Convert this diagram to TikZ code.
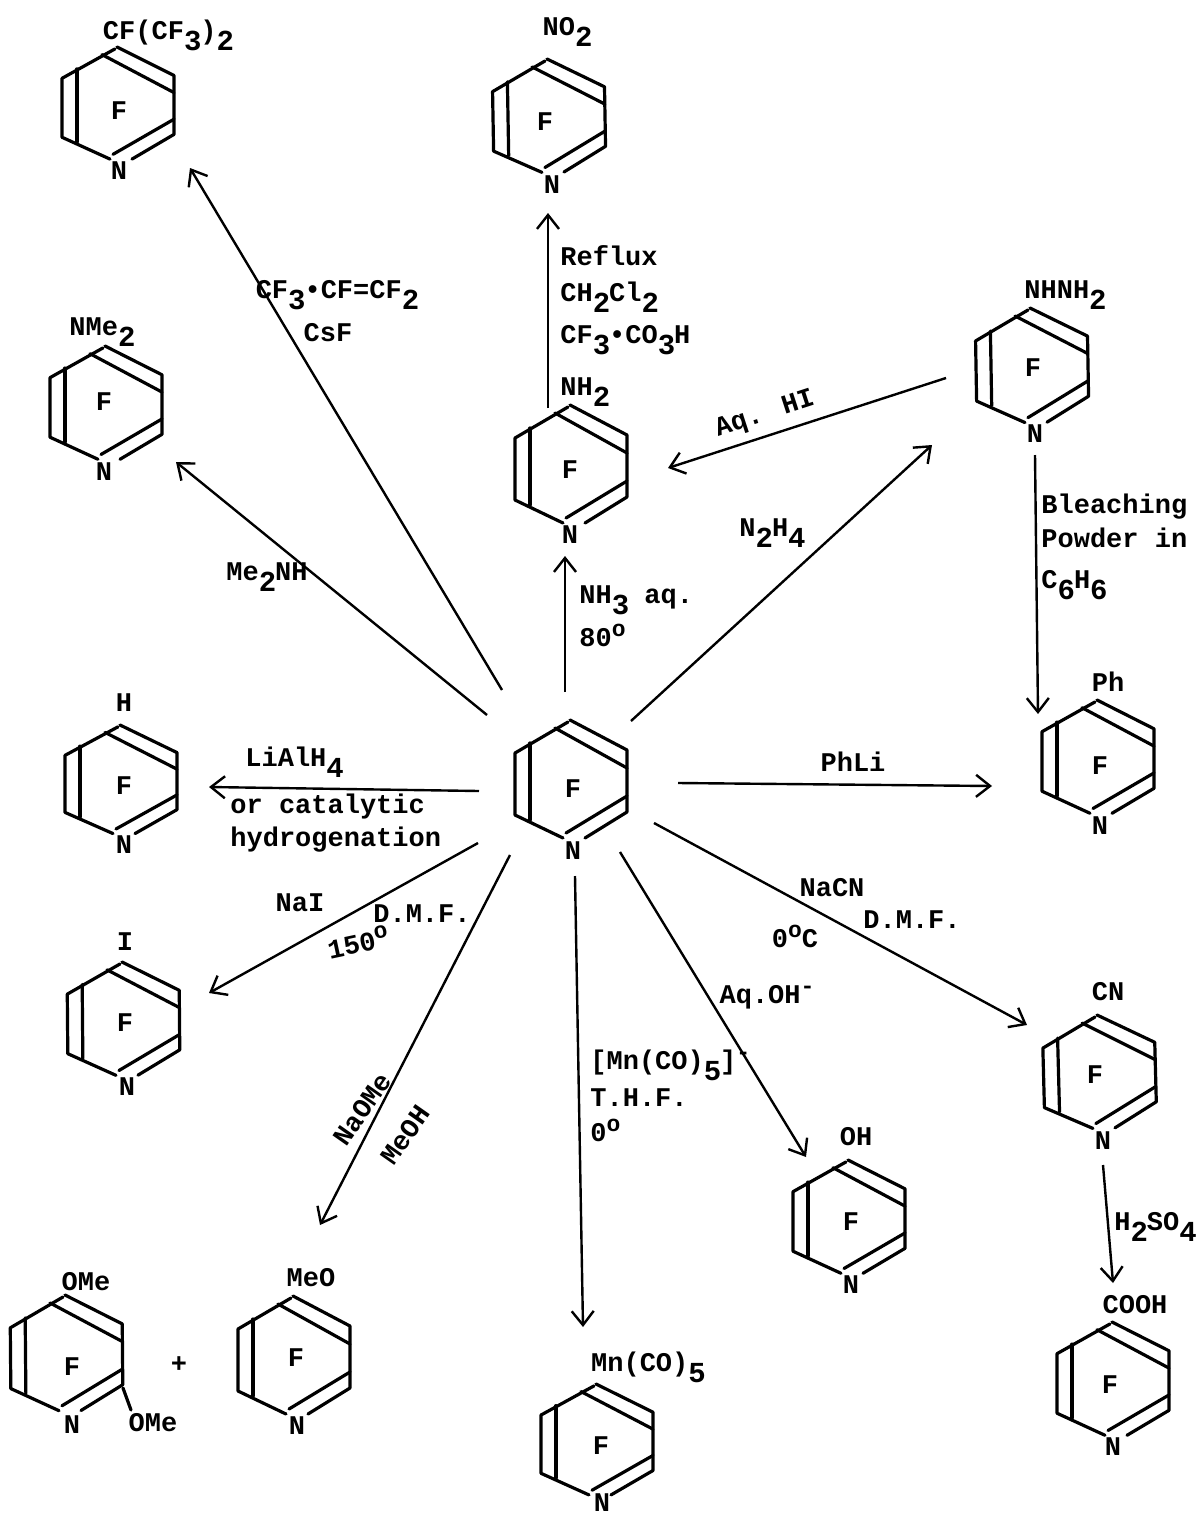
\documentclass[tikz,border=0pt]{standalone}
\usepackage{fontspec}
\setmainfont{Liberation Mono}[BoldFont={Liberation Mono Bold}]
\usetikzlibrary{arrows.meta}
\newcommand\dn[1]{\raisebox{-5.5pt}{\fontsize{14.5}{14.5}\selectfont #1}\kern-.5pt\relax}
\newcommand\up[1]{\raisebox{5pt}{\fontsize{11.5}{11.5}\selectfont #1}}
\newcommand\dotb{•}
\tikzset{
  bond/.style={line width=1.6pt,line cap=round,line join=round},
  rxn/.style={line width=1.2pt,-{Straight Barb[length=7pt,width=11pt,line width=1.2pt]}},
  lab/.style={font=\fontsize{13.5}{13.5}\selectfont\bfseries,inner sep=0pt,text=black},
  atom/.style={font=\fontsize{13.5}{13.5}\selectfont\bfseries,inner sep=0pt,text=black},
}
% name, top x, top y, y scale, rotation, F x, F y, N x, N y
\newcommand\pyr[9]{%
\begin{scope}[shift={(#2,#3)},rotate=#5,yscale=#4]
  \draw[bond] (-2,2) -- (-55,33) -- (-55,95) -- (-7,118);
  \draw[bond] (0,0) -- (57,30) -- (57,92) -- (15,118);
  \draw[bond] (-15,8) -- (57,48);
  \draw[bond] (-4,113) -- (57,76);
  \draw[bond] (-40,23) -- (-40,100);
\end{scope}
\node[atom] (#1F) at (#6,#7) {F};
\node[atom] (#1N) at (#8,#9) {N};}
\begin{document}
\begin{tikzpicture}[x=0.5pt,y=-0.5pt]
\useasboundingbox[fill=white] (0,0) rectangle (1199,1515);
\pyr{cf}{117}{47}{.95}{0}{119}{111}{119}{171}
\pyr{no}{547}{59}{.96}{1}{545}{122}{552}{185}
\pyr{nme}{105}{346}{.96}{0}{104}{402}{104}{472}
\pyr{nh}{570}{405}{1}{0}{570}{470}{570}{535}
\pyr{hyd}{1030}{308}{.97}{1}{1033}{368}{1035}{434}
\pyr{h}{120}{725}{.92}{0}{124}{786}{124}{845}
\pyr{c}{570}{720}{1}{0}{573}{789}{573}{851}
\pyr{ph}{1097}{700}{.96}{0}{1100}{766}{1100}{826}
\pyr{io}{122}{962}{.96}{.5}{125}{1023}{127}{1087}
\pyr{cn}{1097}{1015}{.96}{1.5}{1095}{1075}{1103}{1141}
\pyr{oh}{848}{1160}{.96}{0}{851}{1222}{851}{1285}
\pyr{co}{1112}{1322}{.96}{0}{1110}{1385}{1113}{1447}
\pyr{meo}{293}{1296}{1}{0}{296}{1358}{297}{1426}
\pyr{ome}{65}{1295}{.98}{.5}{72}{1367}{72}{1425}
\pyr{mn}{596}{1384}{.94}{0}{601}{1446}{602}{1503}
% extra bond of dimethoxy product
\draw[bond] (123,1388) -- (131,1410);
% free connector ends
\foreach \n/\x/\y in {a1/502/690,a2/190/168,b1/487/715,b2/176/462,c1/565/692,c2/565/556,
  d1/548/408,d2/548/213,e1/631/721,e2/932/445,f1/946/378,f2/668/468,g1/1035/455,g2/1038/714,
  h1/678/783,h2/992/786,i1/479/791,i2/209/787,j1/478/843,j2/209/993,k1/510/855,k2/320/1225,
  l1/575/876,l2/583/1327,m1/620/852,m2/806/1157,n1/654/823,n2/1027/1025,o1/1103/1165,o2/1113/1283}
  {\coordinate (\n) at (\x,\y);}
\foreach \a/\b in {a1/a2,b1/b2,c1/c2,d1/d2,e1/e2,f1/f2,g1/g2,h1/h2,i1/i2,j1/j2,k1/k2,l1/l2,m1/m2,n1/n2,o1/o2}
  \draw[rxn] (\a) -- (\b);
% substituents
\node[lab] (t1) at (168,35) {CF(CF\dn{3})\dn{2}};
\node[lab] (t2) at (567,32) {NO\dn{2}};
\node[lab] (t3) at (102,332) {NMe\dn{2}};
\node[lab] (t4) at (1065,295) {NHNH\dn{2}};
\node[lab,anchor=west] (t5) at (560,392) {NH\dn{2}};
\node[lab] (t6) at (124,703) {H};
\node[lab] (t7) at (1108,682) {Ph};
\node[lab] (t8) at (125,942) {I};
\node[lab] (t9) at (1108,992) {CN};
\node[lab] (t10) at (856,1137) {OH};
\node[lab] (t11) at (1135,1305) {COOH};
\node[lab] (t12) at (311,1278) {MeO};
\node[lab] (t13) at (86,1282) {OMe};
\node[lab] (t14) at (153,1423) {OMe};
\node[lab] (t15) at (648,1367) {Mn(CO)\dn{5}};
\node[lab] (t16) at (179,1365) {+};
% reagents
\node[lab] (r1) at (337,295) {CF\dn{3}\dotb{}CF=CF\dn{2}};
\node[lab] (r2) at (328,333) {CsF};
\node[lab,anchor=west] (r3) at (560,256) {Reflux};
\node[lab,anchor=west] (r4) at (560,297) {CH\dn{2}Cl\dn{2}};
\node[lab,anchor=west] (r5) at (560,340) {CF\dn{3}\dotb{}CO\dn{3}H};
\node[lab,anchor=west] (r6) at (579,600) {NH\dn{3} aq.};
\node[lab,anchor=west] (r7) at (579,635) {80\up{o}};
\node[lab] (r8) at (267,577) {Me\dn{2}NH};
\node[lab] (r9) at (772,533) {N\dn{2}H\dn{4}};
\node[lab,rotate=18] (r10) at (765,415) {Aq. HI};
\node[lab,anchor=west] (r11) at (1041,507) {Bleaching};
\node[lab,anchor=west] (r12) at (1041,538) {Powder in};
\node[lab,anchor=west] (r13) at (1041,585) {C\dn{6}H\dn{6}};
\node[lab] (r14) at (853,762) {PhLi};
\node[lab,anchor=west] (r15) at (245,762) {LiAlH\dn{4}};
\node[lab,anchor=west] (r16) at (230,807) {or catalytic};
\node[lab,anchor=west] (r17) at (230,840) {hydrogenation};
\node[lab] (r18) at (300,903) {NaI};
\node[lab] (r19) at (422,914) {D.M.F.};
\node[lab,rotate=12] (r20) at (358,942) {150\up{o}};
\node[lab] (r21) at (832,888) {NaCN};
\node[lab] (r22) at (912,920) {D.M.F.};
\node[lab] (r23) at (795,936) {0\up{o}C};
\node[lab] (r24) at (767,997) {Aq.OH\up{-}};
\node[lab,anchor=west] (r25) at (590,1065) {[Mn(CO)\dn{5}]\up{-}};
\node[lab,anchor=west] (r26) at (590,1098) {T.H.F.};
\node[lab,anchor=west] (r27) at (590,1130) {0\up{o}};
\node[lab,rotate=55] (r28) at (362,1109) {NaOMe};
\node[lab,rotate=55] (r29) at (405,1135) {MeOH};
\node[lab] (r30) at (1155,1227) {H\dn{2}SO\dn{4}};
\end{tikzpicture}
\end{document}
